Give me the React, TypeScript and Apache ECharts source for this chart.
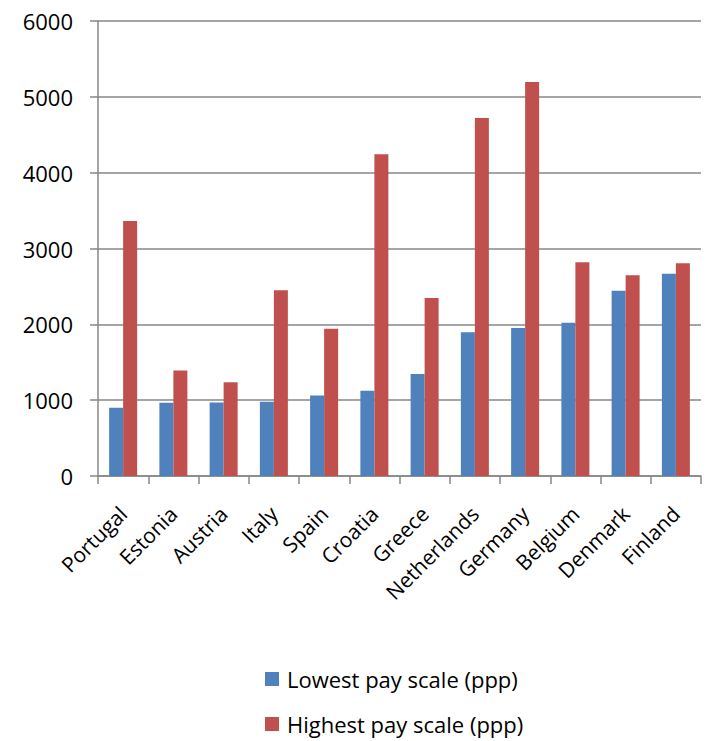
import React, { useEffect, useRef } from "react";
import * as echarts from "echarts";

const categories = [
  "Portugal", "Estonia", "Austria", "Italy", "Spain", "Croatia",
  "Greece", "Netherlands", "Germany", "Belgium", "Denmark", "Finland",
];
const lowestPay = [900, 965, 968, 980, 1060, 1125, 1345, 1895, 1952, 2022, 2444, 2668];
const highestPay = [3363, 1390, 1235, 2449, 1943, 4242, 2347, 4721, 5196, 2818, 2647, 2805];
const seriesNames = ["Lowest pay scale (ppp)", "Highest pay scale (ppp)"];

const FONT = "Open Sans";
const GRID_COLOR = "#878787";

export default function App() {
  const ref = useRef<HTMLDivElement>(null);
  useEffect(() => {
    if (!ref.current) return;
    const chart = echarts.init(ref.current, undefined, { renderer: "svg" });
    const legendBase = {
      orient: "vertical",
      left: 260,
      itemWidth: 14,
      itemHeight: 14,
      icon: "rect",
      textStyle: { fontFamily: FONT, fontSize: 22, color: "#000", padding: [0, 0, 0, 3] },
    };
    chart.setOption({
      animation: false,
      backgroundColor: "#ffffff",
      grid: { left: 98, right: 5, top: 21, bottom: 265, containLabel: false },
      legend: [
        { ...legendBase, top: 663, data: [seriesNames[0]] },
        { ...legendBase, top: 708, data: [seriesNames[1]] },
      ],
      xAxis: {
        type: "category",
        data: categories,
        boundaryGap: true,
        axisLine: { show: true, lineStyle: { color: GRID_COLOR, width: 1.5 } },
        axisTick: { show: true, length: 8, alignWithLabel: false, lineStyle: { color: GRID_COLOR, width: 1.5 } },
        axisLabel: {
          interval: 0,
          rotate: 45,
          margin: 34,
          align: "right",
          verticalAlign: "middle",
          fontFamily: FONT,
          fontSize: 21,
          color: "#000",
        },
      },
      yAxis: {
        type: "value",
        min: 0,
        max: 6000,
        interval: 1000,
        axisLine: { show: true, lineStyle: { color: GRID_COLOR, width: 1.5 } },
        axisTick: { show: true, length: 8, lineStyle: { color: GRID_COLOR, width: 1.5 } },
        splitLine: { show: true, lineStyle: { color: GRID_COLOR, width: 1.5 } },
        axisLabel: {
          margin: 25,
          fontFamily: FONT,
          fontSize: 22,
          color: "#000",
          formatter: (v: number) => String(v),
        },
      },
      series: [
        {
          name: seriesNames[0],
          type: "bar",
          data: lowestPay,
          barWidth: 14,
          barGap: "0%",
          itemStyle: { color: "#4F81BD" },
        },
        {
          name: seriesNames[1],
          type: "bar",
          data: highestPay,
          barWidth: 14,
          barGap: "0%",
          itemStyle: { color: "#C0504D" },
        },
      ],
    });
    return () => chart.dispose();
  }, []);
  return (
    <div
      ref={ref}
      style={{ position: "absolute", left: 0, top: 0, width: 706, height: 741 }}
    />
  );
}
